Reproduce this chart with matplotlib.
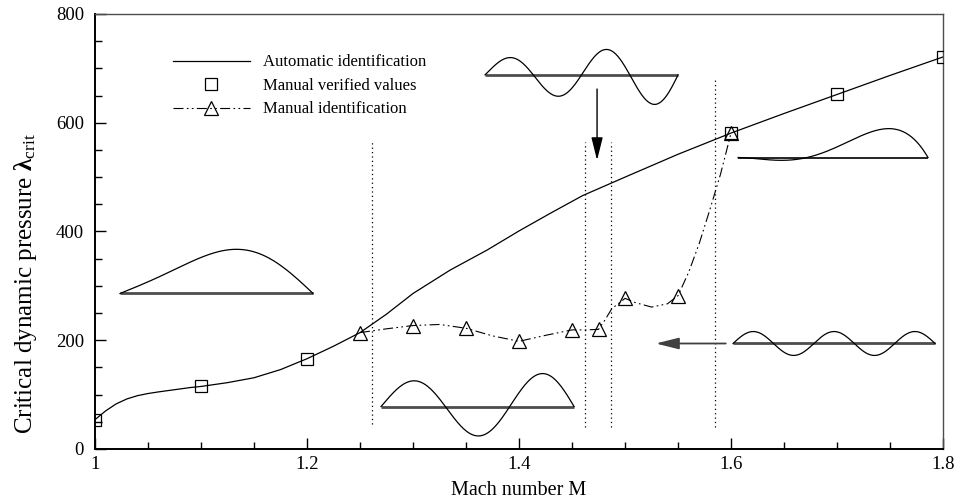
import numpy as np
import matplotlib
matplotlib.use('Agg')
import matplotlib.pyplot as plt
from matplotlib.lines import Line2D

plt.rcParams['font.family'] = ['Liberation Serif', 'DejaVu Serif']
plt.rcParams['mathtext.fontset'] = 'custom'
plt.rcParams['mathtext.rm'] = 'Liberation Serif'
plt.rcParams['mathtext.bf'] = 'Liberation Serif:bold'
plt.rcParams['mathtext.it'] = 'Liberation Serif:italic'

# ---------------------------------------------------------------------------
# data
# ---------------------------------------------------------------------------
# automatic identification (solid curve)
auto_m = [1.0, 1.005, 1.01, 1.02, 1.03, 1.04, 1.05, 1.06, 1.075, 1.09, 1.1,
          1.125, 1.15, 1.175, 1.2, 1.225, 1.25, 1.275, 1.3, 1.335, 1.37, 1.4,
          1.43, 1.46, 1.5, 1.55, 1.6, 1.65, 1.7, 1.75, 1.8]
auto_lam = [54, 62, 70, 83, 92, 98, 102, 105, 109, 113, 115,
            122, 131, 146, 166, 189, 214, 248, 286, 329, 366, 401,
            434, 466, 500, 542, 581, 617, 652, 687, 721]

# manual verified values (squares)
verified_m = [1.0, 1.1, 1.2, 1.6, 1.7, 1.8]
verified_lam = [54, 115, 166, 581, 652, 721]

# manual identification (triangles)
manual_m = [1.25, 1.3, 1.35, 1.4, 1.45, 1.475, 1.5, 1.55, 1.6]
manual_lam = [214, 227, 222, 199, 219, 220, 277, 282, 581]

# the dash-dot-dot curve through the triangles
manual_curve_m = [1.25, 1.275, 1.3, 1.325, 1.35, 1.375, 1.4, 1.425, 1.45,
                  1.4625, 1.475, 1.481, 1.4875, 1.5, 1.51, 1.525, 1.54, 1.55,
                  1.56, 1.57, 1.58, 1.59, 1.6]
manual_curve_lam = [214, 221, 227, 229, 222, 208, 198, 209, 219,
                    219, 220, 237, 258, 277, 269, 261, 267, 282,
                    325, 378, 440, 505, 581]

# dotted boundary lines (Mach number, bottom, top)
bound_m = [1.261, 1.462, 1.487, 1.585]
bound_lo = [46, 41, 41, 41]
bound_hi = [568, 565, 565, 682]

x_ticks = [1.0, 1.2, 1.4, 1.6, 1.8]
x_tick_labels = ['1', '1.2', '1.4', '1.6', '1.8']
y_ticks = [0, 200, 400, 600, 800]

# ---------------------------------------------------------------------------
fig = plt.figure(figsize=(9.55, 5.03), dpi=100)
ax = fig.add_axes([0.0995, 0.1074, 0.8880, 0.8648])

ax.plot(auto_m, auto_lam, color='k', lw=0.9, zorder=3)
ax.plot(verified_m, verified_lam, ls='none', marker='s', ms=9, mfc='none',
        mec='k', mew=0.9, zorder=4)
ax.plot(manual_curve_m, manual_curve_lam, color='k', lw=0.8,
        ls=(0, (9, 3, 1.5, 3, 1.5, 3)), zorder=3)
ax.plot(manual_m, manual_lam, ls='none', marker='^', ms=10, mfc='none',
        mec='k', mew=0.9, zorder=4)

for bm, lo, hi in zip(bound_m, bound_lo, bound_hi):
    ax.plot([bm, bm], [lo, hi], color='k', lw=0.9, ls=(0, (1, 2.5)), zorder=2)


# mode-shape sketches drawn over a beam line
def mode_sketch(m0, m1, base, shape, beam_lw=2.0, beam_col='0.3'):
    s = np.linspace(0, 1, 200)
    ax.plot([m0, m1], [base, base], color=beam_col, lw=beam_lw,
            solid_capstyle='butt', zorder=2)
    ax.plot(m0 + (m1 - m0) * s, base + shape(s), color='k', lw=0.9, zorder=2)


mode_sketch(1.0236, 1.2057, 286,
            lambda s: 76 * (np.sin(np.pi * s) - 0.2 * np.sin(2 * np.pi * s)))
mode_sketch(1.2698, 1.4519, 78,
            lambda s: (44 + 20 * s) * np.sin(3 * np.pi * s))
mode_sketch(1.3679, 1.5500, 688,
            lambda s: (28 + 30 * s) * np.sin(4 * np.pi * s))
mode_sketch(1.6066, 1.7858, 536,
            lambda s: 950 * s ** 2 * (s - 0.363) * (1 - s),
            beam_lw=1.2, beam_col='k')
mode_sketch(1.6019, 1.7925, 194,
            lambda s: 22 * np.sin(5 * np.pi * s))

# arrows
ax.annotate('', xy=(1.4736, 531), xytext=(1.4736, 662),
            arrowprops=dict(arrowstyle='-|>,head_length=1.4,head_width=0.35',
                            color='k', lw=1.0, shrinkA=0, shrinkB=0))
ax.annotate('', xy=(1.529, 194), xytext=(1.595, 194),
            arrowprops=dict(arrowstyle='-|>,head_length=1.4,head_width=0.35',
                            color='0.25', lw=1.3, shrinkA=0, shrinkB=0))

# axes
ax.set_xlim(1.0, 1.8)
ax.set_ylim(0, 800)
ax.set_xticks(x_ticks)
ax.set_xticklabels(x_tick_labels)
ax.set_yticks(y_ticks)
ax.set_xticks(np.arange(1.0, 1.8001, 0.05), minor=True)
ax.set_yticks(np.arange(0, 801, 50), minor=True)
ax.tick_params(which='major', direction='in', length=8, width=1,
               labelsize=13.5)
ax.tick_params(which='minor', direction='in', length=5, width=1)
ax.tick_params(axis='x', pad=5)
ax.tick_params(axis='y', pad=8)
for side in ['left', 'bottom']:
    ax.spines[side].set_linewidth(1.4)
for side in ['top', 'right']:
    ax.spines[side].set_linewidth(1.0)
    ax.spines[side].set_color('0.3')

ax.set_xlabel('Mach number M', fontsize=14.5, labelpad=6)
ax.set_ylabel('Critical dynamic pressure $\\mathbf{\\lambda}_{\\mathrm{crit}}$',
              fontsize=18)
ax.yaxis.set_label_coords(-0.066, 0.38)

handles = [
    Line2D([], [], color='k', lw=0.9),
    Line2D([], [], ls='none', marker='s', ms=9, mfc='none', mec='k', mew=0.9),
    Line2D([], [], color='k', lw=0.8, ls=(0, (9, 3, 1.5, 3, 1.5, 3)),
           marker='^', ms=10, mfc='none', mec='k', mew=0.9),
]
labels = ['Automatic identification', 'Manual verified values',
          'Manual identification']
ax.legend(handles, labels, loc='upper left', bbox_to_anchor=(0.092, 0.907),
          frameon=False, fontsize=12, handlelength=4.6, handletextpad=0.8,
          labelspacing=0.45, borderpad=0, borderaxespad=0)

fig.savefig('out.png', dpi=100)
